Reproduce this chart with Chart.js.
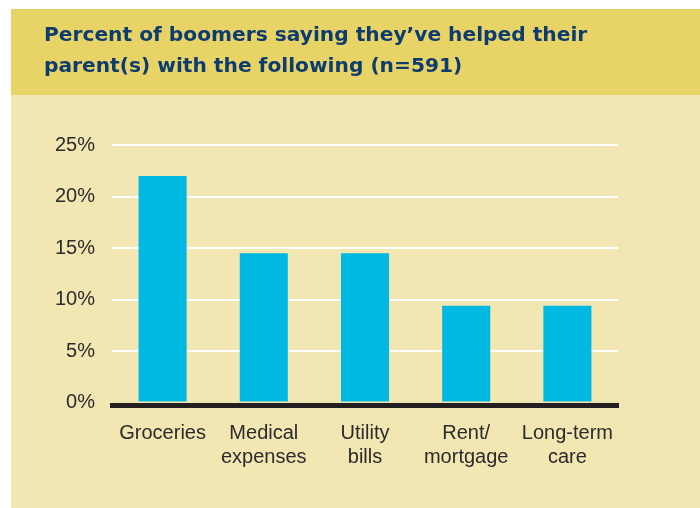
<!DOCTYPE html>
<html>
<head>
<meta charset="utf-8">
<script src="https://cdn.jsdelivr.net/npm/chart.js@4/dist/chart.umd.min.js"></script>
<style>
  html, body { margin: 0; padding: 0; background: #fff; }
  #wrap { width: 700px; height: 508px; }
</style>
</head>
<body>
<div id="wrap"><canvas id="myChart"></canvas></div>
<script>
// data
const categories = [['Groceries'], ['Medical', 'expenses'], ['Utility', 'bills'], ['Rent/', 'mortgage'], ['Long-term', 'care']]
const percentHelped = [22.0, 14.5, 14.5, 9.4, 9.4]
const tickValues = [0, 5, 10, 15, 20, 25]
const titleLines = ['Percent of boomers saying they\u2019ve helped their', 'parent(s) with the following (n=591)']

// paints the header band and the pale panel behind everything
const panelBg = {
  id: 'panelBg',
  beforeDraw(chart) {
    const ctx = chart.ctx
    ctx.save()
    ctx.fillStyle = '#ffffff'
    ctx.fillRect(0, 0, chart.width, chart.height)
    ctx.fillStyle = '#f2e6b2'
    ctx.fillRect(11, 95, chart.width - 11, chart.height - 95)
    ctx.fillStyle = '#e8d466'
    ctx.fillRect(11, 9, chart.width - 11, 86)
    ctx.restore()
  }
}

const myChart = new Chart(document.getElementById('myChart').getContext('2d'), {
  type: 'bar',
  data: {
    labels: categories,
    datasets: [{
      label: 'percent',
      data: percentHelped,
      backgroundColor: '#00b9e2',
      borderWidth: 0,
      barPercentage: 0.475,
      categoryPercentage: 1
    }]
  },
  options: {
    responsive: true,
    maintainAspectRatio: false,
    animation: false,
    layout: { padding: { left: 44, top: 10, right: 82, bottom: 0 } },
    plugins: {
      legend: { display: false },
      tooltip: { enabled: false },
      title: {
        display: true,
        text: titleLines,
        align: 'start',
        color: '#0e3c6e',
        font: { family: 'DejaVu Sans', size: 20.2, weight: 'bold', lineHeight: 1.54 },
        padding: { top: 10, bottom: 63 }
      }
    },
    scales: {
      x: {
        grid: { display: false },
        border: { display: true, color: '#231f20', width: 5 },
        ticks: {
          color: '#2b2b2b',
          padding: 8,
          maxRotation: 0,
          autoSkip: false,
          font: { family: 'Liberation Sans', size: 20, lineHeight: 1.2 }
        },
        afterFit: s => { s.height = 103 }
      },
      y: {
        min: -0.25,
        max: 25,
        border: { display: false },
        grid: {
          drawTicks: false,
          lineWidth: 2,
          color: c => (c.tick && c.tick.value === 0) ? 'rgba(0,0,0,0)' : '#ffffff'
        },
        afterBuildTicks: s => { s.ticks = tickValues.map(v => ({ value: v })) },
        ticks: {
          color: '#2b2b2b',
          padding: 17,
          font: { family: 'Liberation Sans', size: 20 },
          callback: v => v + '%'
        },
        afterFit: s => { s.width = 68 }
      }
    }
  },
  plugins: [panelBg]
})
</script>
</body>
</html>
